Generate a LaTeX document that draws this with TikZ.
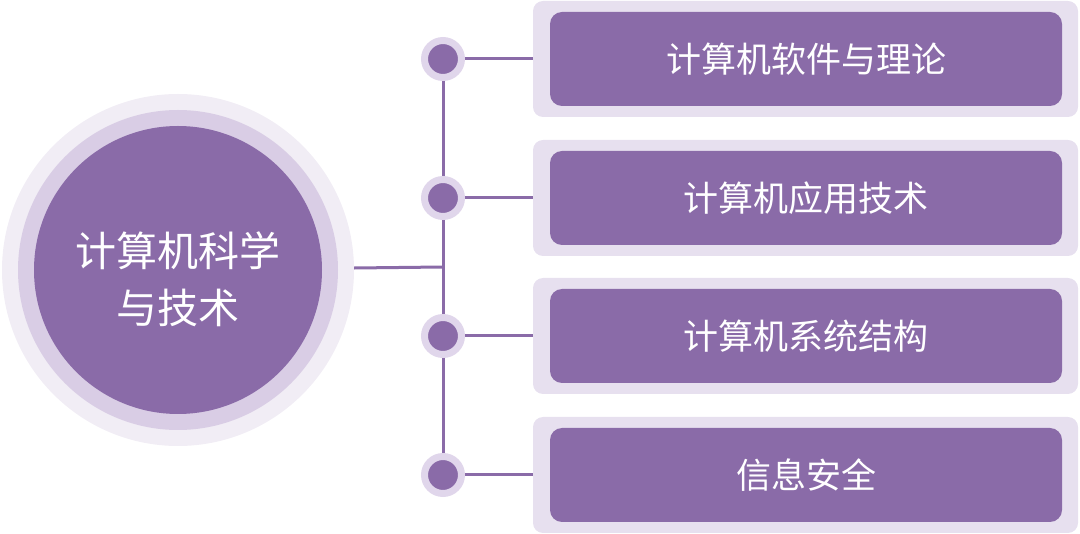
\documentclass[tikz,border=0pt]{standalone}
\usepackage{fontspec}
\setmainfont{Noto Sans CJK SC}
\usetikzlibrary{backgrounds}
\definecolor{pdark}{HTML}{8A6BA8}
\definecolor{pring}{HTML}{D9CDE5}
\definecolor{pouter}{HTML}{F1EDF5}
\definecolor{pbox}{HTML}{E7E0EF}
\definecolor{pdot}{HTML}{E0D6EB}
\begin{document}
\begin{tikzpicture}[x=1pt,y=-1pt,
  link/.style={draw=pdark,line width=3pt},
  ringo/.style={circle,fill=pouter,inner sep=0pt,minimum size=352pt},
  ringm/.style={circle,fill=pring,inner sep=0pt,minimum size=320pt},
  hub/.style={circle,fill=pdark,inner sep=0pt,minimum size=288pt},
  hubtext/.style={text=white,align=center,font=\fontsize{41}{57}\selectfont},
  dotnode/.style={circle,fill=pdark,draw=pdot,line width=7pt,inner sep=0pt,minimum size=37pt},
  boxback/.style={rectangle,rounded corners=10pt,fill=pbox,inner sep=0pt,minimum width=545pt,minimum height=116pt},
  boxfront/.style={rectangle,rounded corners=12pt,fill=pdark,inner sep=0pt,minimum width=512pt,minimum height=94pt,text=white,font=\fontsize{35}{40}\selectfont}
]
\useasboundingbox (0,0) rectangle (1080,534);
\node[ringo] (ro) at (178,270) {};
\node[ringm] (rm) at (178,270) {};
\node[hub] (hub) at (178,270) {};
\node[hubtext] (hubt) at (178,279) {计算机科学\\与技术};
\coordinate (j) at (443,267);
\foreach \i/\y/\t in {1/59/计算机软件与理论,2/198/计算机应用技术,3/336/计算机系统结构,4/475/信息安全}{
  \node[boxback] (bb\i) at (805.5,\y) {};
  \node[boxfront] (bf\i) at (806,\y) {\t};
  \node[dotnode] (d\i) at (443,\y) {};
}
\begin{pgfonlayer}{background}
  \draw[link] (ro.center) -- (j);
  \draw[link] (d1.center) -- (d4.center);
  \foreach \i in {1,...,4}{\draw[link] (d\i.center) -- (bb\i.west);}
\end{pgfonlayer}
\end{tikzpicture}
\end{document}
